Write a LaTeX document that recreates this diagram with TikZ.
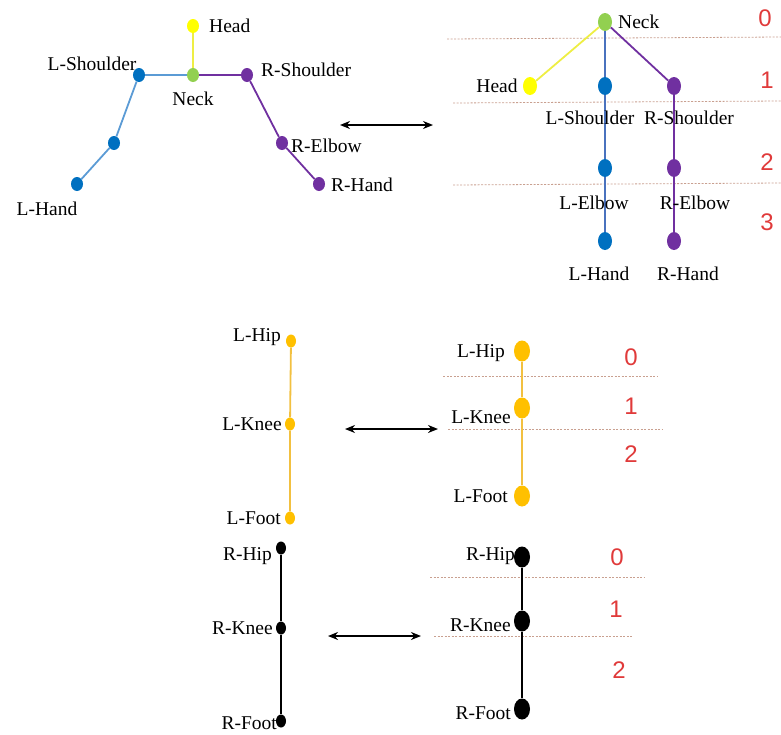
\documentclass[tikz,border=0pt]{standalone}
\usepackage{fontspec}
\setmainfont{Liberation Serif}
\newfontfamily\numfont{Liberation Sans}
\usetikzlibrary{shapes.geometric,arrows.meta}
\definecolor{jyellow}{HTML}{FFFF00}
\definecolor{jyline}{HTML}{EEEE44}
\definecolor{jgreen}{HTML}{92D050}
\definecolor{jblue}{HTML}{0070C0}
\definecolor{jblueline}{HTML}{5B9BD5}
\definecolor{jbluetree}{HTML}{4A72BE}
\definecolor{jpurple}{HTML}{7030A0}
\definecolor{jorange}{HTML}{FFC000}
\definecolor{jorline}{HTML}{F2C040}
\definecolor{jred}{HTML}{E03A3A}
\definecolor{jrule}{HTML}{C9A090}
\tikzset{
  dotsm/.style={ellipse,inner sep=0pt,minimum width=12pt,minimum height=14pt,draw=none},
  dotleg/.style={ellipse,inner sep=0pt,minimum width=10pt,minimum height=13pt,draw=none},
  dotbig/.style={ellipse,inner sep=0pt,minimum width=14pt,minimum height=18pt,draw=none},
  dotbigleg/.style={ellipse,inner sep=0pt,minimum width=16pt,minimum height=21pt,draw=none},
  lbl/.style={font=\fontsize{19.5}{22}\selectfont,inner sep=0pt},
  lvl/.style={font=\numfont\fontsize{24}{26}\selectfont,text=jred,inner sep=0pt},
  bone/.style={line width=1.8pt},
  levelrule/.style={draw=jrule,line width=0.8pt,dash pattern=on 2pt off 1.5pt},
  swap/.style={line width=1.8pt,{Stealth[length=10pt,width=8pt]}-{Stealth[length=10pt,width=8pt]}}
}
\begin{document}
\begin{tikzpicture}[x=1pt,y=-1pt]
\useasboundingbox (0,0) rectangle (781,734);

% ---------- upper body, skeleton view ----------
\node[dotsm,fill=jyellow] (h) at (193,26) {};
\node[dotsm,fill=jgreen] (n) at (193,75) {};
\node[dotsm,fill=jblue] (ls) at (139,75) {};
\node[dotsm,fill=jblue] (le) at (114,143) {};
\node[dotsm,fill=jblue] (lh) at (77,184) {};
\node[dotsm,fill=jpurple] (rs) at (247,75) {};
\node[dotsm,fill=jpurple] (re) at (282,143) {};
\node[dotsm,fill=jpurple] (rh) at (319,184) {};
\draw[bone,jyline] (n) -- (h);
\draw[bone,jblueline] (n) -- (ls) -- (le) -- (lh);
\draw[bone,jpurple] (n) -- (rs) -- (re) -- (rh);
\node[lbl,anchor=west] (th) at (209,26) {Head};
\node[lbl] (tn) at (193,99) {Neck};
\node[lbl] (tls) at (92,64) {L-Shoulder};
\node[lbl] (tlh) at (47,209) {L-Hand};
\node[lbl,anchor=west] (trs) at (261,70) {R-Shoulder};
\node[lbl,anchor=west] (tre) at (291,146) {R-Elbow};
\node[lbl,anchor=west] (trh) at (331,185) {R-Hand};

\coordinate (a1l) at (340,125);
\coordinate (a1r) at (433,125);
\draw[swap] (a1l) -- (a1r);

% ---------- upper body, tree view ----------
\coordinate (r0a) at (447,39);  \coordinate (r0b) at (781,37);
\coordinate (r1a) at (453,103); \coordinate (r1b) at (781,101);
\coordinate (r2a) at (453,185); \coordinate (r2b) at (781,183);
\draw[levelrule] (r0a) -- (r0b);
\draw[levelrule] (r1a) -- (r1b);
\draw[levelrule] (r2a) -- (r2b);

\node[dotbig,fill=jgreen] (N) at (605,22) {};
\node[dotbig,fill=jyellow] (H) at (530,86) {};
\node[dotbig,fill=jblue] (LS) at (605,86) {};
\node[dotbig,fill=jpurple] (RS) at (674,86) {};
\node[dotbig,fill=jblue] (LE) at (605,168) {};
\node[dotbig,fill=jpurple] (RE) at (674,168) {};
\node[dotbig,fill=jblue] (LH) at (605,241) {};
\node[dotbig,fill=jpurple] (RH) at (674,241) {};
\draw[bone,jyline] (N) -- (H);
\draw[bone,jbluetree] (N) -- (LS) -- (LE) -- (LH);
\draw[bone,jpurple] (N) -- (RS) -- (RE) -- (RH);
\node[lbl,anchor=west] (TN) at (618,22) {Neck};
\node[lbl] (TH) at (497,86) {Head};
\node[lbl] (TLS) at (590,118) {L-Shoulder};
\node[lbl] (TRS) at (689,118) {R-Shoulder};
\node[lbl] (TLE) at (594,203) {L-Elbow};
\node[lbl] (TRE) at (695,203) {R-Elbow};
\node[lbl] (TLH) at (599,274) {L-Hand};
\node[lbl] (TRH) at (688,274) {R-Hand};
\node[lvl] (u0) at (765,18) {0};
\node[lvl] (u1) at (767,80) {1};
\node[lvl] (u2) at (767,162) {2};
\node[lvl] (u3) at (767,222) {3};

% ---------- left leg ----------
\node[dotleg,fill=jorange] (lhp) at (291,341) {};
\node[dotleg,fill=jorange] (lkn) at (290,424) {};
\node[dotleg,fill=jorange] (lft) at (290,518) {};
\draw[bone,jorline] (lhp) -- (lkn) -- (lft);
\node[lbl,anchor=east] (tlhp) at (281,337) {L-Hip};
\node[lbl,anchor=east] (tlkn) at (282,424) {L-Knee};
\node[lbl,anchor=east] (tlft) at (281,518) {L-Foot};

\coordinate (a2l) at (345,429);
\coordinate (a2r) at (438,429);
\draw[swap] (a2l) -- (a2r);

\coordinate (s0a) at (443,376); \coordinate (s0b) at (658,376);
\coordinate (s1a) at (448,429); \coordinate (s1b) at (662,429);
\draw[levelrule] (s0a) -- (s0b);
\draw[levelrule] (s1a) -- (s1b);
\node[dotbigleg,fill=jorange] (LHP) at (522,351) {};
\node[dotbigleg,fill=jorange] (LKN) at (522,408) {};
\node[dotbigleg,fill=jorange] (LFT) at (522,496) {};
\draw[bone,jorline] (LHP) -- (LKN) -- (LFT);
\node[lbl,anchor=east] (TLHP) at (505,353) {L-Hip};
\node[lbl,anchor=east] (TLKN) at (511,417) {L-Knee};
\node[lbl,anchor=east] (TLFT) at (508,496) {L-Foot};
\node[lvl] (v0) at (631,357) {0};
\node[lvl] (v1) at (631,406) {1};
\node[lvl] (v2) at (631,454) {2};

% ---------- right leg ----------
\node[dotleg,fill=black] (rhp) at (281,548) {};
\node[dotleg,fill=black] (rkn) at (281,628) {};
\node[dotleg,fill=black] (rft) at (281,721) {};
\draw[bone,black] (rhp) -- (rkn) -- (rft);
\node[lbl,anchor=east] (trhp) at (272,556) {R-Hip};
\node[lbl,anchor=east] (trkn) at (273,628) {R-Knee};
\node[lbl,anchor=east] (trft) at (277,723) {R-Foot};

\coordinate (a3l) at (328,636);
\coordinate (a3r) at (421,636);
\draw[swap] (a3l) -- (a3r);

\coordinate (t0a) at (430,577); \coordinate (t0b) at (645,577);
\coordinate (t1a) at (434,636); \coordinate (t1b) at (632,636);
\draw[levelrule] (t0a) -- (t0b);
\draw[levelrule] (t1a) -- (t1b);
\node[dotbigleg,fill=black] (RHP) at (522,557) {};
\node[dotbigleg,fill=black] (RKN) at (522,621) {};
\node[dotbigleg,fill=black] (RFT) at (522,709) {};
\draw[bone,black] (RHP) -- (RKN) -- (RFT);
\node[lbl,anchor=east] (TRHP) at (515,556) {R-Hip};
\node[lbl,anchor=east] (TRKN) at (511,625) {R-Knee};
\node[lbl,anchor=east] (TRFT) at (511,713) {R-Foot};
\node[lvl] (w0) at (617,557) {0};
\node[lvl] (w1) at (616,609) {1};
\node[lvl] (w2) at (619,670) {2};
\end{tikzpicture}
\end{document}
